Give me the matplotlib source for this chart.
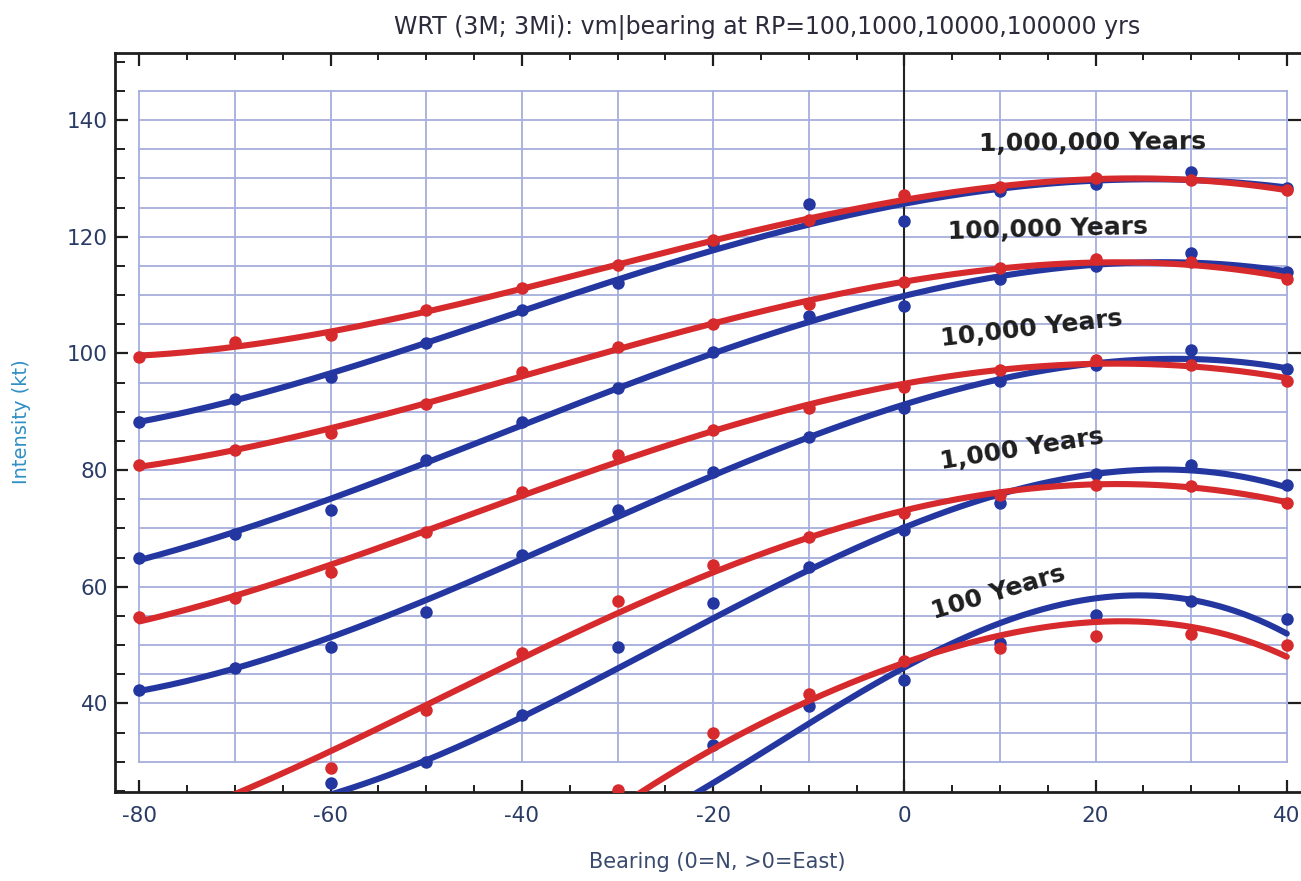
import numpy as np
import matplotlib
matplotlib.use("Agg")
import matplotlib.pyplot as plt
from matplotlib.ticker import MultipleLocator, FixedLocator

plt.rcParams['font.family'] = ['DejaVu Sans']
plt.rcParams['axes.unicode_minus'] = False

# ---------------- data ----------------
bearing = [-80, -70, -60, -50, -40, -30, -20, -10, 0, 10, 20, 30, 40]
nan = float('nan')

# scatter points (kt) per return period, blue / red
pts_blue_1m = [88.3, 92.2, 95.9, 101.8, 107.4, 112.0, 118.9, 125.6, 122.7, 127.9, 129.0, 131.1, 128.3]
pts_red_1m = [99.4, 102.0, 103.2, 107.4, 111.2, 115.2, 119.4, 122.9, 127.1, 128.6, 130.0, 129.7, 128.0]
pts_blue_100k = [64.9, 69.0, 73.2, 81.8, 88.3, 94.0, 100.3, 106.4, 108.2, 112.8, 114.9, 117.2, 114.0]
pts_red_100k = [80.9, 83.4, 86.3, 91.4, 96.8, 101.1, 105.0, 108.5, 112.3, 114.6, 116.1, 115.7, 112.7]
pts_blue_10k = [42.3, 46.1, 49.7, 55.7, 65.5, 73.2, 79.7, 85.6, 90.7, 95.2, 98.0, 100.6, 97.3]
pts_red_10k = [54.8, 58.0, 62.6, 69.4, 76.3, 82.5, 86.8, 90.6, 94.3, 97.2, 98.9, 98.0, 95.2]
pts_blue_1k = [nan, nan, 26.3, 30.0, 38.0, 49.7, 57.2, 63.4, 69.7, 74.3, 79.3, 80.9, 77.5]
pts_red_1k = [nan, nan, 28.9, 38.9, 48.6, 57.6, 63.7, 68.6, 72.6, 75.7, 77.4, 77.2, 74.4]
pts_blue_100 = [nan, nan, nan, nan, nan, 24.3, 32.9, 39.5, 44.1, 50.3, 55.2, 57.6, 54.4]
pts_red_100 = [nan, nan, nan, nan, nan, 25.2, 34.9, 41.6, 47.2, 49.5, 51.6, 51.9, 50.0]

# fitted curves (knots)
crv_x_full = [-80, -70, -60, -50, -40, -30, -20, -10, 0, 10, 20, 30, 40]
crv_blue_1m = [88.3, 92.0, 96.5, 101.6, 107.6, 112.6, 117.7, 122.0, 125.7, 128.0, 129.6, 130.0, 128.3]
crv_red_1m = [99.5, 101.5, 103.4, 107.2, 111.2, 115.1, 119.3, 123.1, 126.5, 128.6, 129.8, 129.7, 128.0]
crv_blue_100k = [64.6, 69.4, 75.0, 81.4, 87.7, 93.9, 99.9, 105.7, 109.7, 113.1, 115.2, 115.7, 114.0]
crv_red_100k = [80.7, 83.4, 86.8, 91.3, 96.7, 100.9, 105.0, 108.9, 112.0, 114.5, 115.7, 115.5, 112.8]
crv_blue_10k = [42.2, 46.0, 51.3, 57.5, 64.9, 72.2, 79.4, 85.2, 91.0, 95.7, 98.3, 99.3, 97.3]
crv_red_10k = [54.4, 58.0, 63.5, 69.6, 76.0, 82.0, 86.8, 90.6, 94.4, 97.0, 98.6, 98.3, 95.4]
crv_x_blue_1k = [-62, -60, -50, -40, -30, -20, -10, 0, 10, 20, 30, 40]
crv_blue_1k = [23.3, 24.7, 30.0, 37.7, 46.3, 54.3, 62.9, 70.4, 75.5, 79.5, 80.0, 77.0]
crv_x_red_1k = [-72, -70, -60, -50, -40, -30, -20, -10, 0, 10, 20, 30, 40]
crv_red_1k = [23.1, 24.6, 31.7, 39.7, 47.7, 55.7, 62.6, 68.3, 73.0, 76.0, 77.7, 77.2, 74.4]
crv_x_blue_100 = [-23.5, -20, -10, 0, 10, 20, 30, 40]
crv_blue_100 = [22.9, 26.5, 36.6, 45.9, 54.0, 58.0, 57.7, 52.0]
crv_x_red_100 = [-29, -20, -10, 0, 10, 20, 30, 40]
crv_red_100 = [23.2, 32.3, 40.3, 47.0, 51.8, 53.8, 53.2, 48.0]

labels = ["1,000,000 Years", "100,000 Years", "10,000 Years", "1,000 Years", "100 Years"]
label_x = [19.7, 15.0, 13.3, 12.3, 9.8]
label_y = [136.1, 121.3, 104.3, 83.6, 59.0]
label_rot = [0.5, 1.5, 6.5, 9.0, 16.5]

title = "WRT (3M; 3Mi): vm|bearing at RP=100,1000,10000,100000 yrs"
xlabel = "Bearing (0=N, >0=East)"
ylabel = "Intensity (kt)"

BLUE = '#2437a0'
RED = '#d62a2d'

# ---------------- figure ----------------
W, H = 1301, 881
fig = plt.figure(figsize=(W / 100, H / 100), dpi=100)
fig.patch.set_facecolor('white')
ax = fig.add_axes([115 / W, 1 - 792 / H, (W - 115) / W, (792 - 53) / H])
ax.set_xlim(-82.56, 41.49)
ax.set_ylim(24.83, 151.48)

# grid (limited extent like the original)
for gx in np.arange(-80, 41, 10):
    ax.plot([gx, gx], [30, 145], color='#a6afdd', lw=1.3, zorder=1)
for gy in np.arange(30, 146, 5):
    ax.plot([-80, 40], [gy, gy], color='#a6afdd', lw=1.3, zorder=1)
ax.axvline(0, color='#222222', lw=1.5, zorder=1.5)


def smooth(xk, yk, deg=4):
    xk = np.asarray(xk, float)
    yk = np.asarray(yk, float)
    c = np.polyfit(xk, yk, deg)
    xs = np.linspace(xk.min(), xk.max(), 300)
    return xs, np.polyval(c, xs)


pairs = [
    (crv_x_full, crv_blue_1m, crv_x_full, crv_red_1m, pts_blue_1m, pts_red_1m),
    (crv_x_full, crv_blue_100k, crv_x_full, crv_red_100k, pts_blue_100k, pts_red_100k),
    (crv_x_full, crv_blue_10k, crv_x_full, crv_red_10k, pts_blue_10k, pts_red_10k),
    (crv_x_blue_1k, crv_blue_1k, crv_x_red_1k, crv_red_1k, pts_blue_1k, pts_red_1k),
    (crv_x_blue_100, crv_blue_100, crv_x_red_100, crv_red_100, pts_blue_100, pts_red_100),
]

for bx, by, rx, ry, pb, pr in pairs:
    xs, ys = smooth(bx, by)
    ax.plot(xs, ys, color=BLUE, lw=4.4, solid_capstyle='round', zorder=3)
    ax.plot(bearing, pb, 'o', color=BLUE, ms=9, mec='none', zorder=3.5)
    xs, ys = smooth(rx, ry)
    ax.plot(xs, ys, color=RED, lw=4.4, solid_capstyle='round', zorder=4)
    ax.plot(bearing, pr, 'o', color=RED, ms=9, mec='none', zorder=4.5)

for t, lx, ly, rot in zip(labels, label_x, label_y, label_rot):
    ax.text(lx, ly, t, fontsize=18, fontweight='bold', color='#1e1e1e',
            ha='center', va='center', rotation=rot, rotation_mode='anchor', zorder=6)

# spines / ticks
for s in ['left', 'bottom', 'top']:
    ax.spines[s].set_color('#1e1e1e')
    ax.spines[s].set_linewidth(2.0)
ax.spines['right'].set_visible(False)

ax.xaxis.set_major_locator(MultipleLocator(20))
ax.xaxis.set_minor_locator(MultipleLocator(5))
ax.yaxis.set_major_locator(FixedLocator(np.arange(40, 141, 20)))
ax.yaxis.set_minor_locator(FixedLocator(np.arange(25, 151, 5)))

ax.tick_params(axis='x', which='major', direction='in', length=9, width=1.6,
               top=True, bottom=True, labelsize=15.5, pad=10, colors='#1e1e1e',
               labelcolor='#2a3c66')
ax.tick_params(axis='x', which='minor', direction='in', length=5, width=1.4,
               top=True, bottom=True, colors='#1e1e1e')
ax.tick_params(axis='y', which='major', direction='in', length=9.5, width=1.6,
               left=True, right=True, labelsize=15.5, pad=5, colors='#1e1e1e',
               labelcolor='#2a3c66')
ax.tick_params(axis='y', which='minor', direction='in', length=7, width=1.4,
               left=True, right=False, colors='#1e1e1e')

ax.set_facecolor('white')
fig.text(0.5 * (115 + 1301) / W * 0 + 767 / W, 1 - 27 / H, title, ha='center', va='center',
         fontsize=17, color='#2b2b3b')
fig.text(717 / W, 1 - 862 / H, xlabel, ha='center', va='center', fontsize=15, color='#3a4a6e')
fig.text(22 / W, 1 - 422 / H, ylabel, ha='center', va='center', rotation=90,
         fontsize=14, color='#2f8fc4')

fig.savefig('out.png', dpi=100, facecolor='white')
